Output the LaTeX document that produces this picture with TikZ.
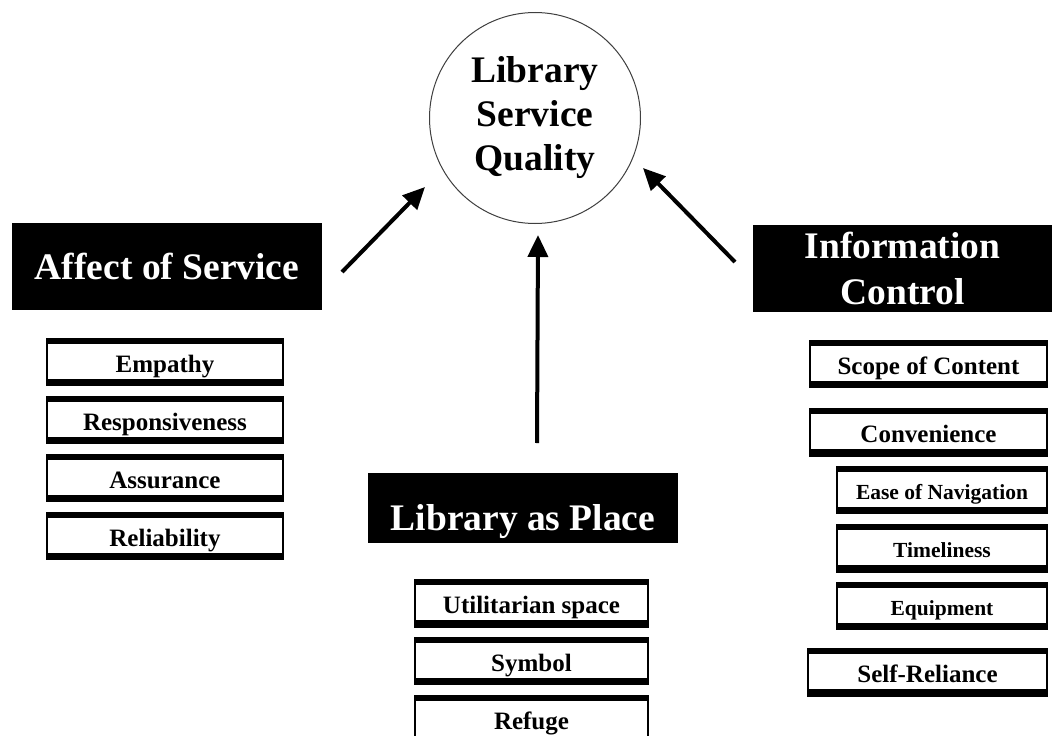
\documentclass[tikz,border=0pt]{standalone}
\usepackage{fontspec}
\setmainfont{Liberation Serif}
\usetikzlibrary{arrows.meta}
\begin{document}
\begin{tikzpicture}[x=1pt,y=-1pt,
  hdr/.style={fill=black, text=white, inner sep=0pt, align=center,
    font=\fontsize{37.5}{46}\selectfont\bfseries},
  band/.style={path picture={
    \fill[black] (path picture bounding box.north west) rectangle ([yshift=-5pt]path picture bounding box.north east);
    \fill[black] (path picture bounding box.south west) rectangle ([yshift=7pt]path picture bounding box.south east);}},
  subbox/.style={draw=black, line width=1.5pt, fill=white, inner sep=0pt, band,
    font=\fontsize{25}{30}\selectfont\bfseries, text height=20pt, text depth=0pt, minimum height=47pt},
  subsmall/.style={subbox, font=\fontsize{21.5}{26}\selectfont\bfseries, text height=18pt},
  arr/.style={line width=4pt, -{Triangle[length=22pt,width=20pt]}}]
\useasboundingbox (0,0) rectangle (1053,736);
\fill[white] (0,0) rectangle (1053,736);

% centre circle
\node[draw=black!75, line width=1pt, circle, minimum size=211pt, inner sep=0pt, align=center,
  font=\fontsize{37.5}{44}\selectfont\bfseries] (lsq) at (535,118) {Library\\Service\\Quality};

% header boxes
\node[hdr, minimum width=310pt, minimum height=87pt, text height=25.5pt, text depth=0pt] (aff) at (167,266.5) {Affect of Service};
\node[hdr, minimum width=299pt, minimum height=87pt] (info) at (902.5,268.5) {Information\\Control};
\node[hdr, minimum width=310pt, minimum height=70pt, text height=45pt, text depth=0pt] (place) at (523,508) {Library as Place};

% left sub boxes
\node[subbox, minimum width=236pt] (emp) at (165,362) {Empathy};
\node[subbox, minimum width=236pt] (resp) at (165,420) {Responsiveness};
\node[subbox, minimum width=236pt] (ass) at (165,478) {Assurance};
\node[subbox, minimum width=236pt] (rel) at (165,536) {Reliability};

% middle sub boxes
\node[subbox, minimum width=233pt] (util) at (531.5,603.5) {Utilitarian space};
\node[subbox, minimum width=233pt] (sym) at (531.5,661) {Symbol};
\node[subbox, minimum width=233pt] (ref) at (531.5,719) {Refuge};

% right sub boxes
\node[subbox, minimum width=237pt] (scope) at (928.5,364) {Scope of Content};
\node[subbox, minimum width=237pt] (conv) at (928.5,432.5) {Convenience};
\node[subsmall, minimum width=210pt] (ease) at (942,490) {Ease of Navigation};
\node[subsmall, minimum width=210pt] (time) at (942,548.5) {Timeliness};
\node[subsmall, minimum width=210pt] (equip) at (942,606) {Equipment};
\node[subbox, minimum width=239pt] (self) at (927.5,672.5) {Self-Reliance};

% arrows
\coordinate (la0) at (342,272);
\coordinate (la1) at (425,187);
\coordinate (ca0) at (537,443);
\coordinate (ca1) at (538,235);
\coordinate (ra0) at (735,262);
\coordinate (ra1) at (643,168);
\draw[arr] (la0) -- (la1);
\draw[arr] (ca0) -- (ca1);
\draw[arr] (ra0) -- (ra1);
\end{tikzpicture}
\end{document}
